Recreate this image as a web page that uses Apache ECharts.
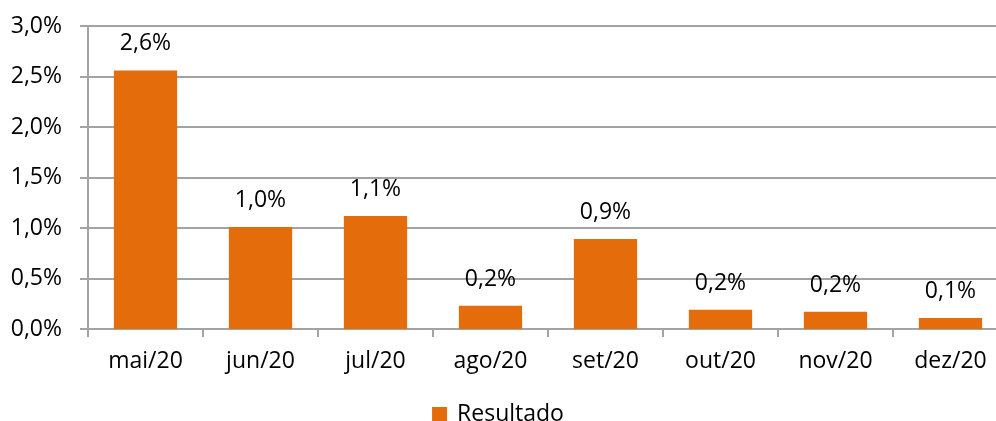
<!DOCTYPE html>
<html>
<head>
<meta charset="utf-8">
<script src="https://cdn.jsdelivr.net/npm/echarts@6/dist/echarts.min.js"></script>
<style>
  html, body { margin: 0; padding: 0; background: #fff; }
  #chart { width: 996px; height: 421px; }
</style>
</head>
<body>
<div id="chart"></div>
<script>
const months = ['mai/20', 'jun/20', 'jul/20', 'ago/20', 'set/20', 'out/20', 'nov/20', 'dez/20']
const resultado = [2.56, 1.01, 1.12, 0.23, 0.89, 0.19, 0.17, 0.11]

const pct = v => v.toFixed(1).replace('.', ',') + '%'
const font = 'Open Sans'
const gray = '#a3a3a3'

const myChart = echarts.init(document.getElementById('chart'))
myChart.setOption({
    animation: false,
    textStyle: { fontFamily: font },
    // the plot runs past the right edge in the original
    grid: { left: 88, width: 920, top: 26, height: 303, outerBoundsMode: 'none' },
    legend: {
        top: 398,
        left: 'center',
        itemWidth: 15,
        itemHeight: 15,
        icon: 'rect',
        textStyle: { fontFamily: font, fontSize: 23, color: '#000', padding: [0, 0, 0, 5] },
        data: ['Resultado'],
    },
    xAxis: {
        type: 'category',
        data: months,
        axisLine: { lineStyle: { color: gray, width: 2 } },
        axisTick: { show: true, length: 8, lineStyle: { color: gray, width: 2 } },
        axisLabel: { fontSize: 23, color: '#000', margin: 21 },
    },
    yAxis: {
        type: 'value',
        min: 0,
        max: 3,
        interval: 0.5,
        axisLine: { show: true, lineStyle: { color: gray, width: 2 } },
        axisTick: { show: true, length: 8, lineStyle: { color: gray, width: 2 } },
        splitLine: { lineStyle: { color: gray, width: 2 } },
        axisLabel: { fontSize: 23, color: '#000', margin: 26, formatter: pct },
    },
    series: [{
        name: 'Resultado',
        type: 'bar',
        data: resultado,
        barCategoryGap: '45%',
        itemStyle: { color: '#e46c0a' },
        label: {
            show: true,
            position: 'top',
            distance: 15,
            fontSize: 23,
            color: '#000',
            formatter: p => pct(p.value),
        },
    }],
})
</script>
</body>
</html>
